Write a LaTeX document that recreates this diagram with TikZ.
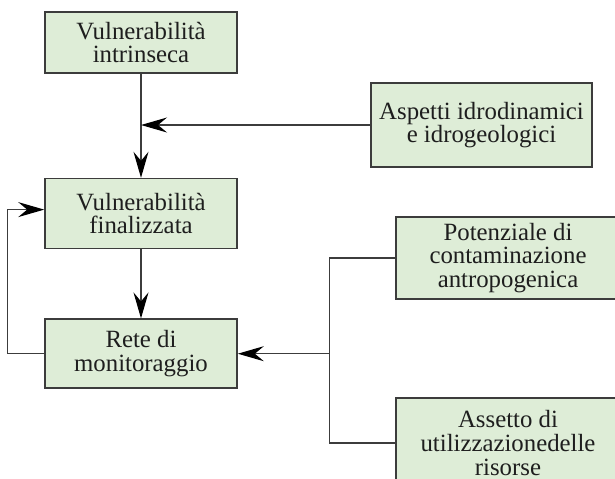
\documentclass[tikz,border=0pt]{standalone}
\usepackage{fontspec}
\setmainfont{Liberation Serif}
\usepackage{xcolor}
\usepackage{tikz}
\usetikzlibrary{arrows.meta,positioning}
\definecolor{Sage}{HTML}{DEEDD7}
\definecolor{Slate}{HTML}{3C3C3C}
\definecolor{Ink}{HTML}{1E1E1E}

\begin{document}
\begin{tikzpicture}[
  x=0.5pt,y=-0.5pt,
  node distance=52pt,
  box/.style={draw=Slate,line width=0.8pt,fill=Sage,align=center,text=Ink,
    font=\fontsize{12.4}{11.8}\selectfont,inner sep=3pt},
  colbox/.style={box,minimum width=96pt},
  line/.style={draw=Slate,line width=0.6pt},
  arrow/.style={line,-{Stealth[length=13pt,width=7.5pt,inset=4.5pt,color=black]}}
]
\useasboundingbox (0,0) rectangle (615,478);
\clip (0,0) rectangle (615,478);
\node[colbox,minimum height=30.5pt] at (141,42.5) (intrinseca) {Vulnerabilit\`a\\intrinseca};
\node[colbox,minimum height=35pt,below=52pt of intrinseca] (finalizzata) {Vulnerabilit\`a\\finalizzata};
\node[colbox,minimum height=34.5pt,below=34.5pt of finalizzata] (rete) {Rete di\\monitoraggio};
\node[box,minimum width=110.5pt,minimum height=42pt] at (481.5,125) (aspetti) {Aspetti idrodinamici\\e idrogeologici};
\node[box,minimum width=112pt,minimum height=41pt] at (508,258) (potenziale) {Potenziale di\\contaminazione\\antropogenica};
\node[box,minimum width=112pt,minimum height=45pt] at (508,443) (assetto) {Assetto di\\utilizzazionedelle\\risorse};
\path (rete.east) ++(92,0) coordinate (join);
\draw[arrow] (intrinseca)--(finalizzata);
\draw[arrow] (aspetti.west)--(aspetti.west -| intrinseca.south);
\draw[arrow] (finalizzata)--(rete);
\draw[arrow] (rete.west)--++(-37,0)|-([yshift=2pt]finalizzata.west);
\draw[line] (potenziale.west)-|(join)|-(assetto.west);
\draw[arrow] (join)--(rete.east);
\end{tikzpicture}
\end{document}
